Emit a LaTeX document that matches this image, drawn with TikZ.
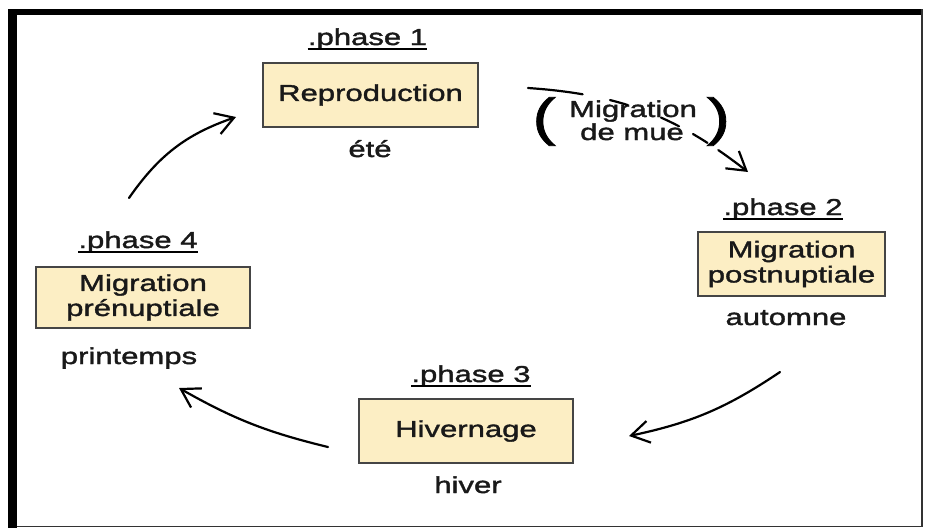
\documentclass[tikz,border=0pt]{standalone}
\usepackage{fontspec}
\setmainfont{Liberation Sans}[FakeStretch=1.35,FakeBold=1.6]
\usetikzlibrary{arrows.meta}
\definecolor{boxfill}{HTML}{FCEEC4}
\definecolor{boxline}{HTML}{454545}
\begin{document}
\begin{tikzpicture}[x=1pt,y=1pt,
  txt/.style={font=\fontsize{23}{25}\selectfont, inner sep=0pt, text=black!90},
  phasebox/.style={draw=boxline, line width=1.5pt, fill=boxfill, align=center,
    font=\fontsize{23}{25}\selectfont, inner sep=0pt, text=black!90},
  cyc/.style={line width=2.2pt, line cap=round, -{Straight Barb[length=18pt,width=22pt]}},
  paren/.style={font=\fontsize{52}{52}\selectfont, inner sep=0pt}
]
\useasboundingbox (0,0) rectangle (925,-528);
\fill[white] (0,0) rectangle (925,-528);
% frame
\fill[black] (8,-9) rectangle (923,-15);
\fill[black] (8,-9) rectangle (17,-528);
\draw[line width=1.5pt, black!80] (922,-9) -- (922,-527);
\draw[line width=1.5pt, black!80] (17,-526.5) -- (922,-526.5);

% boxes
\node[phasebox, minimum width=215pt, minimum height=64pt] (b1) at (370.5,-95) {Reproduction};
\node[phasebox, minimum width=187pt, minimum height=64pt] (b2) at (791.5,-264) {Migration\\postnuptiale};
\node[phasebox, minimum width=214pt, minimum height=64pt] (b3) at (466,-431) {Hivernage};
\node[phasebox, minimum width=214pt, minimum height=61pt] (b4) at (143,-297.5) {Migration\\prénuptiale};

% labels
\node[txt, anchor=base] (p1) at (367.5,-45) {.phase 1};
\node[txt, anchor=base] (s1) at (370,-157) {été};
\node[txt, anchor=base] (p2) at (783,-215) {.phase 2};
\node[txt, anchor=base] (s2) at (786,-325) {automne};
\node[txt, anchor=base] (p3) at (471,-382) {.phase 3};
\node[txt, anchor=base] (s3) at (468,-493) {hiver};
\node[txt, anchor=base] (p4) at (138,-248) {.phase 4};
\node[txt, anchor=base] (s4) at (129,-364) {printemps};
\foreach \p in {p1,p2,p3,p4}
  \draw[line width=1.6pt] ([yshift=-4pt]\p.base west) -- ([yshift=-4pt]\p.base east);

% migration de mue
\node[txt, anchor=base] (m1) at (633,-117) {Migration};
\node[txt, anchor=base] (m2) at (632,-140) {de mue};
\node[paren] (lp) at (544,-121.5) {(};
\node[paren] (rp) at (718.5,-121.5) {)};

% arrows
\coordinate (a1s) at (129,-198); \coordinate (a1e) at (236,-117);
\coordinate (a2s) at (528,-88);  \coordinate (a2e) at (748,-172);
\coordinate (a3s) at (780,-372); \coordinate (a3e) at (629,-436);
\coordinate (a4s) at (328,-447); \coordinate (a4e) at (179,-388);
\draw[cyc] (a1s) to[bend left=18] (a1e);
\draw[cyc, dash pattern=on 55pt off 28pt on 18pt off 36pt on 20pt off 16pt on 17pt off 13pt on 80pt] (a2s) to[bend left=17] (a2e);
\draw[cyc] (a3s) to[bend left=11] (a3e);
\draw[cyc] (a4s) to[bend left=8] (a4e);
\end{tikzpicture}
\end{document}
